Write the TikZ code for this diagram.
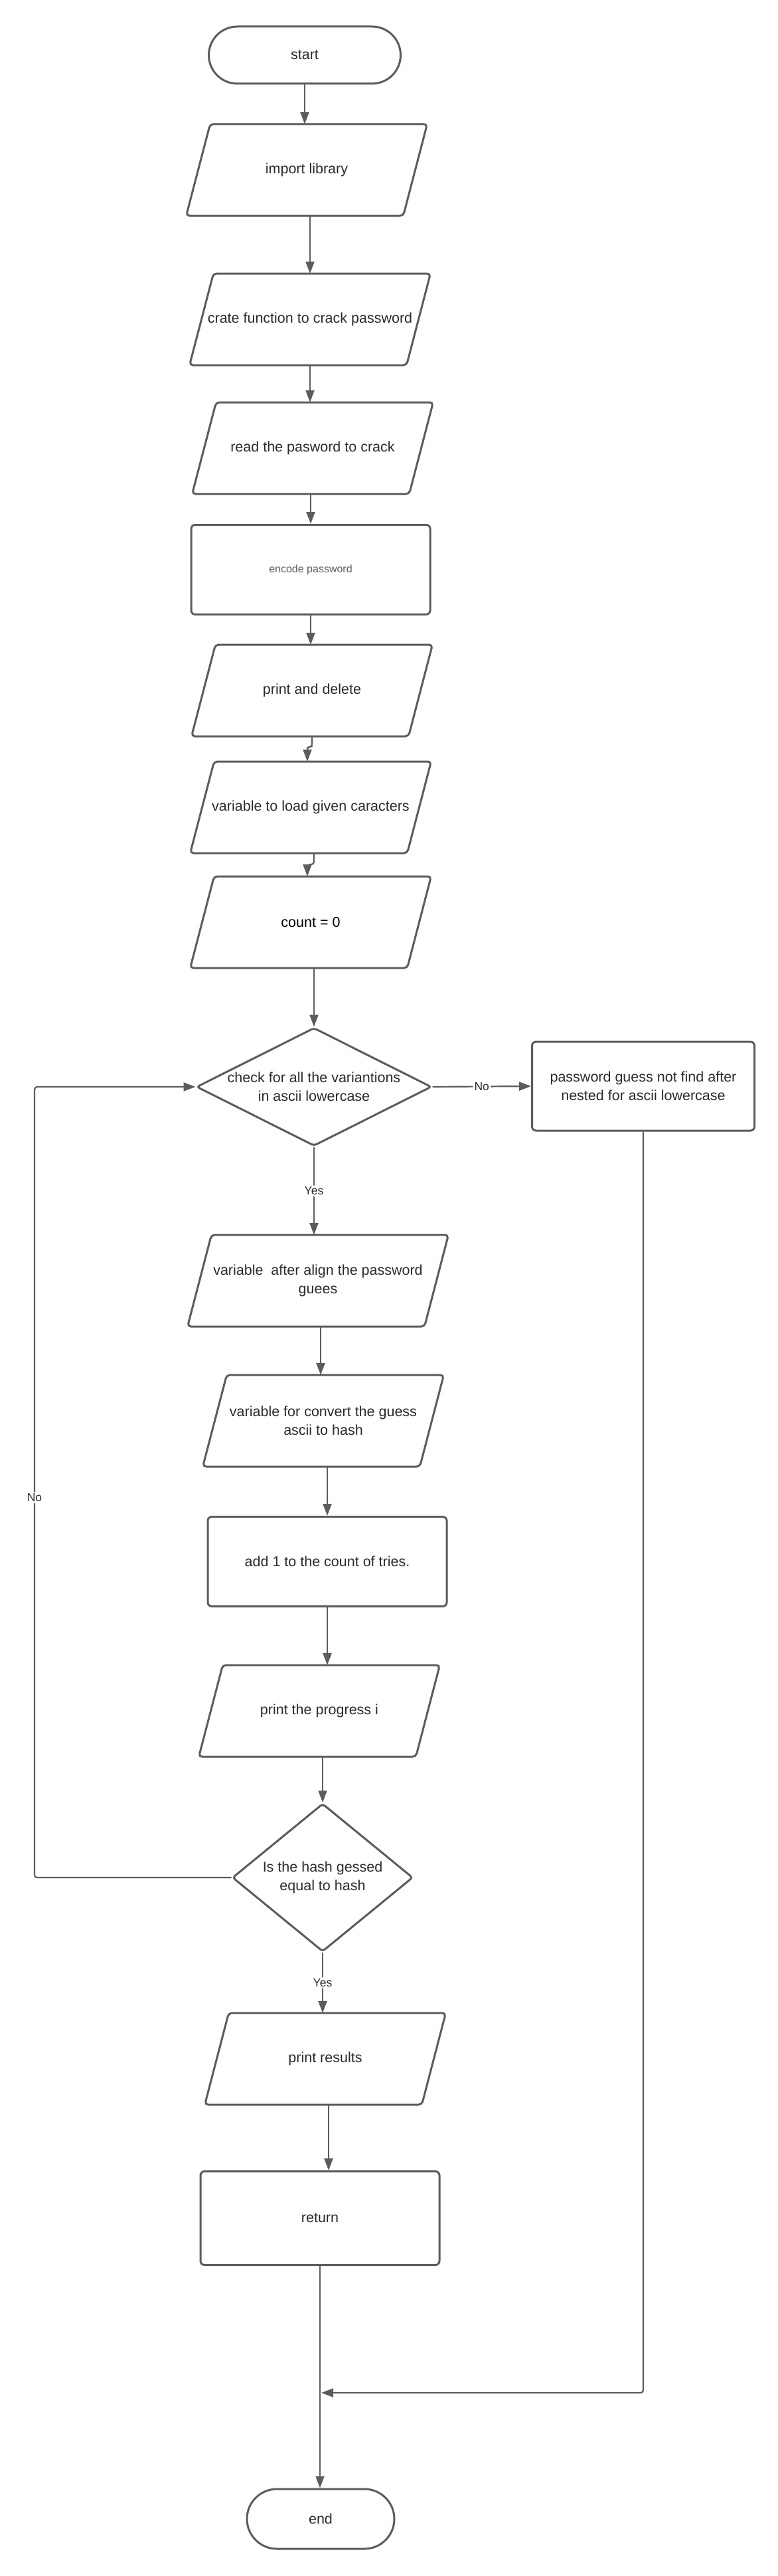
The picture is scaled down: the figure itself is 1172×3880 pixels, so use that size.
\documentclass[tikz,border=0pt]{standalone}
\usepackage{fontspec}
\setmainfont{Liberation Sans}
\usetikzlibrary{shapes.geometric,arrows.meta}
\definecolor{ln}{HTML}{5C5C5C}
\definecolor{tx}{HTML}{2B2B2B}
\tikzset{
 box/.style={draw=ln, line width=3pt, rounded corners=6pt, minimum width=360pt, minimum height=135pt,
  text=tx, align=center, font=\fontsize{21.5pt}{28pt}\selectfont},
 io/.style={box, draw=none, minimum width=324pt},
 ioline/.style={draw=ln, line width=3pt, rounded corners=5pt},
 term/.style={box, minimum width=289pt, minimum height=86pt, rounded corners=43pt},
 dec/.style={draw=ln, line width=3pt, diamond, inner sep=0pt, rounded corners=4pt},
 dtxt/.style={text=tx, align=center, font=\fontsize{21.5pt}{28pt}\selectfont},
 flow/.style={draw=ln, line width=2.2pt, rounded corners=4pt, -{Triangle[length=18pt,width=13pt]}},
 lbl/.style={fill=white, text=tx, inner sep=2pt, font=\fontsize{17.5pt}{20pt}\selectfont}
}
\begin{document}
\begin{tikzpicture}[x=1pt, y=-1pt]
 \fill[white] (0,0) rectangle (1172,3880);

 \node[term] (Start) at (459,83) {start};
 \node[io] (Imp) at (462,256) {import library};
 \node[io] (Fun) at (467,481) {crate function to crack password};
 \node[io] (Read) at (471,675) {read the pasword to crack};
 \node[box, text=ln, font=\fontsize{16pt}{20pt}\selectfont] (Enc) at (468,858) {encode password};
 \node[io] (Del) at (470,1040) {print and delete};
 \node[io] (Load) at (468,1216) {variable to load given caracters};
 \node[io, text=black] (Cnt) at (468,1389) {count = 0};
 \node[dec, minimum width=354pt, minimum height=178pt,
  label={[dtxt]center:check for all the variantions\\in ascii lowercase}] (Chk) at (473,1637) {};
 \node[box, minimum width=335pt, minimum height=134pt] (Fail) at (969,1636) {password guess not find after\\nested for ascii lowercase};
 \node[io, minimum width=354pt] (Align) at (479,1929) {variable\ \ after align the password\\guees};
 \node[io] (Conv) at (487,2140) {variable for convert the guess\\ascii to hash};
 \node[box] (Add) at (493,2352) {add 1 to the count of tries.};
 \node[io] (Prog) at (481,2577) {print the progress i};
 \node[dec, minimum width=272pt, minimum height=223pt,
  label={[dtxt]center:Is the hash gessed\\equal to hash}] (Eq) at (486,2828) {};
 \node[io] (Res) at (490,3101) {print results};
 \node[box, minimum height=141pt] (Ret) at (482,3341) {return};
 \node[term, minimum width=222pt, minimum height=90pt, rounded corners=45pt] (End) at (483,3794) {end};
 \coordinate (Back) at (52,2256);
 \coordinate (Join) at (484,3604);

 \foreach \n in {Imp,Fun,Read,Del,Load,Cnt,Align,Conv,Prog,Res}
  \draw[ioline] ([xshift=-18pt]\n.south west) -- ([xshift=-18pt]\n.south east)
   -- ([xshift=18pt]\n.north east) -- ([xshift=18pt]\n.north west) -- cycle;

 \draw[flow] (Start.south) -- (Start.south |- Imp.north);
 \draw[flow] (Fun.north |- Imp.south) -- (Fun.north);
 \draw[flow] (Fun.south) -- (Fun.south |- Read.north);
 \draw[flow] (Enc.north |- Read.south) -- (Enc.north);
 \draw[flow] (Enc.south) -- (Enc.south |- Del.north);
 \draw[flow] (Del.south) -- ++(0,16) -| ([xshift=-5pt]Load.north);
 \draw[flow] ([xshift=5pt]Load.south) -- ++(0,17) -| ([xshift=-5pt]Cnt.north);
 \draw[flow] ([xshift=5pt]Cnt.south) -- (Chk.north);
 \draw[flow] (Chk.east) -- node[lbl]{No} (Fail.west);
 \draw[flow] (Chk.south) -- node[lbl]{Yes} (Chk.south |- Align.north);
 \draw[flow] ([xshift=4pt]Align.south) -- ([xshift=4pt]Align.south |- Conv.north);
 \draw[flow] (Add.north |- Conv.south) -- (Add.north);
 \draw[flow] (Add.south) -- (Add.south |- Prog.north);
 \draw[flow] (Eq.north |- Prog.south) -- (Eq.north);
 \draw[flow] (Eq.west) -| (Back) node[lbl]{No} |- (Chk.west);
 \draw[flow] (Eq.south) -- node[lbl]{Yes} (Eq.south |- Res.north);
 \draw[flow] ([xshift=5pt]Res.south) -- ([xshift=5pt]Res.south |- Ret.north);
 \draw[flow] (Ret.south) -- (Ret.south |- End.north);
 \draw[flow] (Fail.south) |- (Join);
\end{tikzpicture}
\end{document}
